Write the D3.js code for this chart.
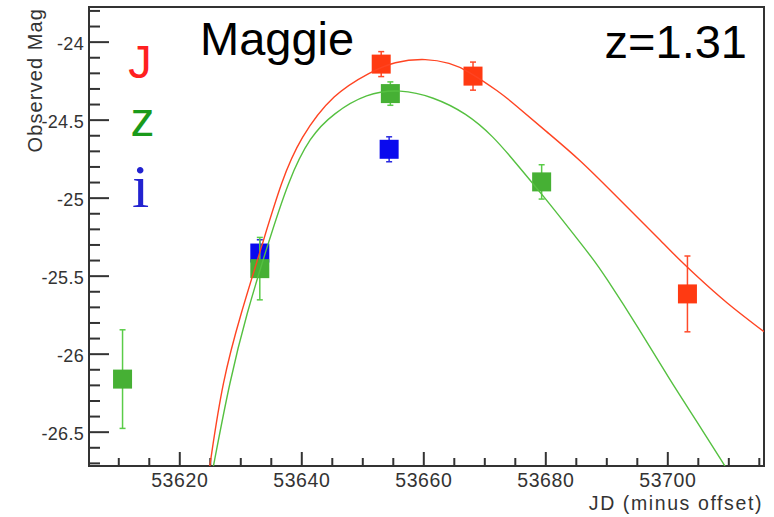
<!DOCTYPE html>
<html>
<head>
<meta charset="utf-8">
<script src="https://cdn.jsdelivr.net/npm/d3@7"></script>
<style>
  html, body { margin: 0; padding: 0; background: #fff; }
  svg { display: block; }
</style>
</head>
<body>
<div id="chart"></div>
<script>
// Observed light curve of SN "Maggie" (z = 1.31) in three filters.
const jDays = [53653.1, 53668.15, 53703.3];
const jMags = [-24.144, -24.221, -25.617];
const jErrs = [0.08, 0.09, 0.243];

const zDays = [53610.7, 53633.2, 53654.6, 53679.4];
const zMags = [-26.163, -25.455, -24.333, -24.899];
const zErrs = [0.316, 0.2, 0.075, 0.11];

const iDays = [53633.2, 53654.4];
const iMags = [-25.355, -24.69];
const iErrs = [0.085, 0.08];

// Fitted template curves
const jFitDays = [53625.0, 53627.1, 53630.1, 53633.5, 53636.8, 53639.8, 53645.25, 53651.5,
                  53655.1, 53660.6, 53664.4, 53667.1, 53672.6, 53674.75, 53680.2, 53685.7,
                  53691.15, 53696.6, 53698.8, 53701.0, 53704.3, 53709.7, 53715.85];
const jFitMags = [-26.72, -26.169, -25.741, -25.314, -24.887, -24.617, -24.331, -24.192,
                  -24.128, -24.106, -24.138, -24.181, -24.326, -24.395, -24.577, -24.758,
                  -24.972, -25.186, -25.271, -25.361, -25.485, -25.677, -25.859];

const zFitDays = [53625.6, 53628.3, 53631.05, 53634.4, 53637.9, 53641.4, 53645.25, 53650.7,
                  53656.2, 53661.6, 53667.1, 53671.5, 53674.75, 53680.2, 53684.05, 53687.9,
                  53689.5, 53695.5, 53700.4, 53705.4, 53709.5];
const zFitMags = [-26.72, -26.169, -25.741, -25.314, -24.887, -24.609, -24.459, -24.331,
                  -24.305, -24.353, -24.459, -24.609, -24.758, -25.014, -25.205, -25.397,
                  -25.485, -25.848, -26.169, -26.468, -26.724];

const xMajorTicks = [53620, 53640, 53660, 53680, 53700];
const yMajorTicks = [-24, -24.5, -25, -25.5, -26, -26.5];
const legendBands = ["J", "z", "i"];

const W = 774, H = 517;
const frame = { left: 89, right: 764, top: 7, bottom: 466 };
const sans = "'Liberation Sans', Arial, Helvetica, sans-serif";
const serif = "'Liberation Serif', 'Times New Roman', serif";

const svg = d3.select("#chart").append("svg")
  .attr("width", W).attr("height", H);

const x = d3.scaleLinear().domain([53605.2, 53715.85]).range([frame.left, frame.right]);
const y = d3.scaleLinear().domain([-23.778, -26.72]).range([frame.top, frame.bottom]);

const axisColor = "#333";

// clip for the plot area
svg.append("defs").append("clipPath").attr("id", "plotClip")
  .append("rect")
  .attr("x", frame.left).attr("y", frame.top)
  .attr("width", frame.right - frame.left).attr("height", frame.bottom - frame.top);

// frame
svg.append("rect")
  .attr("x", frame.left).attr("y", frame.top)
  .attr("width", frame.right - frame.left).attr("height", frame.bottom - frame.top)
  .attr("fill", "none").attr("stroke", axisColor).attr("stroke-width", 2)
  .attr("shape-rendering", "crispEdges");

// x axis: major ticks with labels, minor every 5 days
const xAxis = d3.axisBottom(x).tickValues(xMajorTicks).tickFormat(d3.format("d"))
  .tickSizeInner(-14).tickSizeOuter(0).tickPadding(7);
const gx = svg.append("g").attr("transform", `translate(0,${frame.bottom})`).call(xAxis);
gx.select(".domain").remove();
gx.selectAll(".tick line").attr("stroke", axisColor).attr("stroke-width", 2);
gx.selectAll(".tick text")
  .attr("fill", axisColor)
  .style("font-family", sans).style("font-size", "19.5px")
  .style("letter-spacing", "0.6px");

const xMinor = d3.range(53610, 53716, 5).filter(v => !xMajorTicks.includes(v));
const xMinorAxis = d3.axisBottom(x).tickValues(xMinor).tickFormat("")
  .tickSizeInner(-8).tickSizeOuter(0);
const gxm = svg.append("g").attr("transform", `translate(0,${frame.bottom})`).call(xMinorAxis);
gxm.select(".domain").remove();
gxm.selectAll(".tick line").attr("stroke", axisColor).attr("stroke-width", 2);

// y axis: major every 0.5 mag, minor every 0.1 mag
const yAxis = d3.axisLeft(y).tickValues(yMajorTicks).tickFormat(d => String(d))
  .tickSizeInner(-20).tickSizeOuter(0).tickPadding(5);
const gy = svg.append("g").attr("transform", `translate(${frame.left},0)`).call(yAxis);
gy.select(".domain").remove();
gy.selectAll(".tick line").attr("stroke", axisColor).attr("stroke-width", 2);
gy.selectAll(".tick text")
  .attr("fill", axisColor)
  .attr("dy", "0.42em")
  .style("font-family", sans).style("font-size", "18px")
  .style("letter-spacing", "0.3px");

const yMinor = d3.range(-238, -268, -1).map(v => v / 10)
  .filter(v => !yMajorTicks.includes(v));
const yMinorAxis = d3.axisLeft(y).tickValues(yMinor).tickFormat("")
  .tickSizeInner(-11).tickSizeOuter(0);
const gym = svg.append("g").attr("transform", `translate(${frame.left},0)`).call(yMinorAxis);
gym.select(".domain").remove();
gym.selectAll(".tick line").attr("stroke", axisColor).attr("stroke-width", 2);

// axis titles
svg.append("text")
  .attr("x", 763).attr("y", 510)
  .attr("text-anchor", "end")
  .attr("fill", axisColor)
  .style("font-family", sans).style("font-size", "19.5px")
  .style("letter-spacing", "1.6px")
  .text("JD (minus offset)");

svg.append("text")
  .attr("transform", "translate(41.5,8) rotate(-90)")
  .attr("text-anchor", "end")
  .attr("fill", axisColor)
  .style("font-family", sans).style("font-size", "20px")
  .style("letter-spacing", "1.1px")
  .text("Observed Mag");

// data points with error bars
const plot = svg.append("g").attr("clip-path", "url(#plotClip)");
const SQ = 19, CAP = 3;

function drawBand(days, mags, errs, fill, barColor) {
  const pts = days.map((d, i) => ({ d, m: mags[i], e: errs[i] }));
  const g = plot.append("g");
  const bars = g.selectAll("g.eb").data(pts).enter().append("g").attr("class", "eb");
  bars.append("line")
    .attr("x1", p => x(p.d)).attr("x2", p => x(p.d))
    .attr("y1", p => y(p.m + p.e)).attr("y2", p => y(p.m - p.e))
    .attr("stroke", barColor).attr("stroke-width", 1.5);
  [1, -1].forEach(s => {
    bars.append("line")
      .attr("x1", p => x(p.d) - CAP).attr("x2", p => x(p.d) + CAP)
      .attr("y1", p => y(p.m + s * p.e)).attr("y2", p => y(p.m + s * p.e))
      .attr("stroke", barColor).attr("stroke-width", 1.5);
  });
  g.selectAll("rect").data(pts).enter().append("rect")
    .attr("x", p => x(p.d) - SQ / 2).attr("y", p => y(p.m) - SQ / 2)
    .attr("width", SQ).attr("height", SQ)
    .attr("fill", fill);
}

drawBand(jDays, jMags, jErrs, "#ff3a12", "#ff4a2a");
drawBand(iDays, iMags, iErrs, "#0a0aee", "#2a2ae0");
drawBand(zDays, zMags, zErrs, "#46b034", "#5acc48");

// fitted curves
const line = d3.line().x(p => x(p[0])).y(p => y(p[1])).curve(d3.curveBasis);
plot.append("path")
  .datum(jFitDays.map((d, i) => [d, jFitMags[i]]))
  .attr("d", line).attr("fill", "none")
  .attr("stroke", "#ff4422").attr("stroke-width", 1.4);
plot.append("path")
  .datum(zFitDays.map((d, i) => [d, zFitMags[i]]))
  .attr("d", line).attr("fill", "none")
  .attr("stroke", "#55c040").attr("stroke-width", 1.4);

// band legend
const legendColors = { J: "#ff2020", z: "#1a9a1a", i: "#2222d0" };
svg.append("text").attr("x", 140).attr("y", 78)
  .attr("text-anchor", "middle")
  .style("font-family", sans).style("font-size", "47px")
  .attr("fill", legendColors.J).text(legendBands[0]);
svg.append("text").attr("x", 142.5).attr("y", 136)
  .attr("text-anchor", "middle")
  .style("font-family", sans).style("font-size", "48px")
  .attr("fill", legendColors.z).text(legendBands[1]);
svg.append("text").attr("x", 140.5).attr("y", 207)
  .attr("text-anchor", "middle")
  .style("font-family", serif).style("font-size", "62px")
  .attr("fill", legendColors.i).text(legendBands[2]);

// name and redshift
svg.append("text").attr("x", 200).attr("y", 55)
  .style("font-family", sans).style("font-size", "47px")
  .attr("fill", "#000").text("Maggie");
svg.append("text").attr("x", 747).attr("y", 58)
  .attr("text-anchor", "end")
  .style("font-family", sans).style("font-size", "47px")
  .attr("fill", "#000").text("z=1.31");
</script>
</body>
</html>
